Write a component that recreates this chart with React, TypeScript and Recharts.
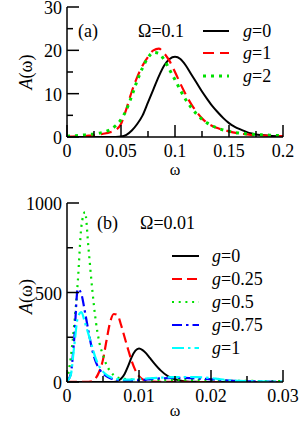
import { Line, LineChart, XAxis, YAxis } from "recharts";

const FONT = "'Liberation Serif', 'Times New Roman', Tinos, 'DejaVu Serif', serif";

// ---- panel (a): Omega = 0.1 ----
const omegaA = [
  0, 0.005, 0.01, 0.015, 0.02, 0.025, 0.03, 0.035, 0.04, 0.045, 0.05, 0.055,
  0.06, 0.065, 0.07, 0.075, 0.08, 0.085, 0.09, 0.095, 0.1, 0.105, 0.11, 0.115,
  0.12, 0.125, 0.13, 0.135, 0.14, 0.145, 0.15, 0.155, 0.16, 0.165, 0.17, 0.175,
  0.18, 0.185, 0.19, 0.195, 0.2,
];
const a_g0 = [
  0, 0, 0, 0, 0, 0, 0, 0, 0, 0.02, 0.1, 0.5, 1.5, 3.0, 5.0, 8.0, 11.0, 14.0,
  16.5, 18.0, 18.5, 18.0, 16.5, 14.5, 12.5, 10.5, 8.7, 7.0, 5.6, 4.3, 3.2, 2.4,
  1.8, 1.3, 0.85, 0.6, 0.45, 0.32, 0.22, 0.16, 0.12,
];
const a_g1 = [
  0.1, 0.1, 0.15, 0.2, 0.3, 0.4, 0.6, 0.8, 1.1, 1.6, 3.0, 6.5, 10.5, 13.8,
  16.5, 18.5, 20.0, 20.4, 19.3, 17.5, 15.0, 12.3, 9.8, 7.6, 5.8, 4.3, 3.2, 2.5,
  2.0, 1.6, 1.3, 1.0, 0.8, 0.65, 0.5, 0.4, 0.35, 0.3, 0.25, 0.2, 0.2,
];
const a_g2 = [
  0.2, 0.25, 0.35, 0.45, 0.55, 0.7, 0.9, 1.2, 1.7, 2.6, 4.0, 6.3, 9.5, 13.0,
  16.0, 18.3, 19.5, 19.3, 17.8, 15.5, 13.2, 10.8, 8.6, 6.8, 5.3, 4.1, 3.2, 2.5,
  2.0, 1.6, 1.3, 1.05, 0.9, 0.75, 0.65, 0.55, 0.5, 0.45, 0.4, 0.35, 0.3,
];
const xMajorA = [0, 0.05, 0.1, 0.15, 0.2];
const xLabelA = ["0", "0.05", "0.1", "0.15", "0.2"];
const xMinorA = [0.025, 0.075, 0.125, 0.175];
const yMajorA = [0, 10, 20, 30];
const yLabelA = ["0", "10", "20", "30"];
const yMinorA = [5, 15, 25];

// ---- panel (b): Omega = 0.01 ----
const omegaB = [
  0, 0.0005, 0.001, 0.0015, 0.002, 0.0025, 0.003, 0.0035, 0.004, 0.0045,
  0.005, 0.0055, 0.006, 0.0065, 0.007, 0.0075, 0.008, 0.0085, 0.009, 0.0095,
  0.01, 0.0105, 0.011, 0.0115, 0.012, 0.013, 0.014, 0.015, 0.016, 0.017,
  0.018, 0.019, 0.02, 0.021, 0.022, 0.023, 0.024, 0.025, 0.026, 0.027, 0.028,
  0.029, 0.03,
];
const b_g0 = [
  0, 0, 0, 0, 0, 0, 0, 0, 0, 0, 0, 0, 0, 0.5, 5, 18, 45, 90, 140, 175, 187,
  178, 160, 135, 110, 65, 33, 15, 6, 2, 1, 0, 0, 0, 0, 0, 0, 0, 0, 0, 0, 0, 0,
];
const b_g025 = [
  1, 1, 1, 1, 1, 1, 1.5, 5, 22, 60, 125, 235, 335, 380, 375, 320, 250, 180,
  115, 65, 33, 15, 7, 3, 2, 1, 1, 0.5, 0.5, 0, 0, 0, 0, 0, 0, 0, 0, 0, 0, 0,
  0, 0, 0,
];
const b_g05 = [
  10, 130, 320, 560, 870, 950, 740, 520, 340, 220, 150, 95, 60, 38, 26, 20,
  17, 15, 14, 13, 13, 12, 12, 12, 12, 12, 12, 12, 12, 11, 11, 10, 10, 9, 8, 7,
  7, 6, 6, 5, 5, 5, 4,
];
const b_g075 = [
  5, 40, 240, 520, 490, 390, 280, 180, 112, 72, 47, 31, 21, 15, 11, 9, 8, 8,
  8, 9, 10, 11, 13, 15, 17, 20, 22, 23, 23, 22, 20, 18, 15, 12, 9, 7, 5, 4, 3,
  2.5, 2, 1.5, 1,
];
const b_g1 = [
  5, 35, 200, 360, 390, 330, 265, 195, 130, 85, 58, 40, 28, 20, 16, 14, 13,
  13, 14, 15, 17, 18, 19, 21, 22, 24, 26, 27, 28, 28, 27, 25, 22, 17, 12, 9, 6,
  5, 4, 3, 2.5, 2, 2,
];
const xMajorB = [0, 0.01, 0.02, 0.03];
const xLabelB = ["0", "0.01", "0.02", "0.03"];
const xMinorB = [0.005, 0.015, 0.025];
const yMajorB = [0, 500, 1000];
const yLabelB = ["0", "500", "1000"];
const yMinorB = [250, 750];

const dataA = omegaA.map((w, i) => ({ w, g0: a_g0[i], g1: a_g1[i], g2: a_g2[i] }));
const dataB = omegaB.map((w, i) => ({
  w,
  g0: b_g0[i],
  g025: b_g025[i],
  g05: b_g05[i],
  g075: b_g075[i],
  g1: b_g1[i],
}));

const seriesA = [
  { key: "g0", label: "0", color: "#000000", dash: undefined, width: 2 },
  { key: "g1", label: "1", color: "#ff0000", dash: "11 6", width: 2.2 },
  { key: "g2", label: "2", color: "#00e000", dash: "3 5", width: 3 },
];
const seriesB = [
  { key: "g0", label: "0", color: "#000000", dash: undefined, width: 2 },
  { key: "g025", label: "0.25", color: "#ff0000", dash: "10 5", width: 2.2 },
  { key: "g05", label: "0.5", color: "#00e000", dash: "2 4.7", width: 2.2 },
  { key: "g075", label: "0.75", color: "#0000ff", dash: "10 4 2.5 4", width: 2.2 },
  { key: "g1", label: "1", color: "#00ffff", dash: "12 4 2.5 4", width: 2.2 },
];

const MAJOR = 12;
const MINOR = 6;
const near = (list: number[], v: number) => list.findIndex((m) => Math.abs(m - v) < 1e-9);
const merge = (a: number[], b: number[]) => [...a, ...b].sort((p, q) => p - q);

const textStyle = { fontFamily: FONT, fontSize: 18, fill: "#000" };

function xTick(majors: number[], labels: string[], side: "bottom" | "top") {
  return (p: any) => {
    const idx = near(majors, p.payload.value);
    const len = idx >= 0 ? MAJOR : MINOR;
    const dir = side === "bottom" ? -1 : 1;
    return (
      <g>
        <line x1={p.x} x2={p.x} y1={p.y} y2={p.y + dir * len} stroke="#000" strokeWidth={1.5} />
        {side === "bottom" && idx >= 0 && (
          <text x={p.x} y={p.y + 20} textAnchor="middle" fontFamily={FONT} style={textStyle}>
            {labels[idx]}
          </text>
        )}
      </g>
    );
  };
}

function yTick(majors: number[], labels: string[], side: "left" | "right") {
  return (p: any) => {
    const idx = near(majors, p.payload.value);
    const len = idx >= 0 ? MAJOR : MINOR;
    const dir = side === "left" ? 1 : -1;
    return (
      <g>
        <line x1={p.x} x2={p.x + dir * len} y1={p.y} y2={p.y} stroke="#000" strokeWidth={1.5} />
        {side === "left" && idx >= 0 && (
          <text x={p.x - 5} y={p.y + 7} textAnchor="end" fontFamily={FONT} style={textStyle}>
            {labels[idx]}
          </text>
        )}
      </g>
    );
  };
}

const omegaLabel = (dy: number) => (p: any) => {
  const vb = p.viewBox;
  return (
    <text x={vb.x + vb.width / 2} y={vb.y + dy} textAnchor="middle" fontFamily={FONT} style={{ ...textStyle, fontSize: 16 }}>
      ω
    </text>
  );
};

const aLabel = (shift: number) => (p: any) => {
  const vb = p.viewBox;
  const cx = vb.x + 32;
  const cy = vb.y + vb.height / 2 + shift;
  return (
    <text x={cx} y={cy} textAnchor="middle" transform={`rotate(-90 ${cx} ${cy})`} fontFamily={FONT} style={textStyle}>
      <tspan fontStyle="italic">A</tspan>(ω)
    </text>
  );
};

const axisLine = { stroke: "#000", strokeWidth: 1.5 };

function Panel(props: {
  data: any[];
  series: typeof seriesA;
  height: number;
  margin: { top: number; right: number; bottom: number; left: number };
  xAxisHeight: number;
  xDomain: [number, number];
  yDomain: [number, number];
  xMajor: number[];
  xLabel: string[];
  xMinor: number[];
  yMajor: number[];
  yLabel: string[];
  yMinor: number[];
  omegaDy: number;
  aShift: number;
}) {
  const xTicks = merge(props.xMajor, props.xMinor);
  const yTicks = merge(props.yMajor, props.yMinor);
  return (
    <LineChart width={300} height={props.height} data={props.data} margin={props.margin}>
      <XAxis
        dataKey="w"
        type="number"
        domain={props.xDomain}
        ticks={xTicks}
        interval={0}
        allowDataOverflow
        height={props.xAxisHeight}
        tickSize={0}
        tickMargin={0}
        tickLine={false}
        axisLine={axisLine}
        tick={xTick(props.xMajor, props.xLabel, "bottom")}
        label={{ content: omegaLabel(props.omegaDy) }}
      />
      <XAxis
        xAxisId="top"
        orientation="top"
        type="number"
        domain={props.xDomain}
        ticks={xTicks}
        interval={0}
        allowDataOverflow
        height={0}
        tickSize={0}
        tickMargin={0}
        tickLine={false}
        axisLine={axisLine}
        tick={xTick(props.xMajor, props.xLabel, "top")}
      />
      <YAxis
        type="number"
        domain={props.yDomain}
        ticks={yTicks}
        interval={0}
        allowDataOverflow
        width={67}
        tickSize={0}
        tickMargin={0}
        tickLine={false}
        axisLine={axisLine}
        tick={yTick(props.yMajor, props.yLabel, "left")}
        label={{ content: aLabel(props.aShift) }}
      />
      <YAxis
        yAxisId="right"
        orientation="right"
        type="number"
        domain={props.yDomain}
        ticks={yTicks}
        interval={0}
        allowDataOverflow
        width={0}
        tickSize={0}
        tickMargin={0}
        tickLine={false}
        axisLine={axisLine}
        tick={yTick(props.yMajor, props.yLabel, "right")}
      />
      {props.series.map((s) => (
        <Line
          key={s.key}
          dataKey={s.key}
          type="monotone"
          stroke={s.color}
          strokeWidth={s.width}
          strokeDasharray={s.dash}
          dot={false}
          activeDot={false}
          isAnimationActive={false}
        />
      ))}
    </LineChart>
  );
}

function LegendRows(props: {
  series: typeof seriesA;
  x1: number;
  x2: number;
  tx: number;
  ys: number[];
}) {
  return (
    <>
      {props.series.map((s, i) => (
        <g key={s.key}>
          <line
            x1={props.x1}
            x2={props.x2}
            y1={props.ys[i]}
            y2={props.ys[i]}
            stroke={s.color}
            strokeWidth={s.width}
            strokeDasharray={s.dash}
          />
          <text x={props.tx} y={props.ys[i] + 6} fontFamily={FONT} style={textStyle}>
            <tspan fontStyle="italic">g</tspan>={s.label}
          </text>
        </g>
      ))}
    </>
  );
}

export default function App() {
  return (
    <div style={{ position: "absolute", left: 0, top: 0, width: 300, height: 421, background: "#fff", fontFamily: FONT }}>
      <div style={{ position: "absolute", left: 0, top: 0 }}>
        <Panel
          data={dataA}
          series={seriesA}
          height={190}
          margin={{ top: 7, right: 17, bottom: 0, left: 0 }}
          xAxisHeight={53}
          xDomain={[0, 0.2]}
          yDomain={[0, 30]}
          xMajor={xMajorA}
          xLabel={xLabelA}
          xMinor={xMinorA}
          yMajor={yMajorA}
          yLabel={yLabelA}
          yMinor={yMinorA}
          omegaDy={38}
          aShift={0}
        />
      </div>
      <div style={{ position: "absolute", left: 0, top: 187 }}>
        <Panel
          data={dataB}
          series={seriesB}
          height={234}
          margin={{ top: 16, right: 17, bottom: 0, left: 0 }}
          xAxisHeight={39}
          xDomain={[0, 0.03]}
          yDomain={[0, 1000]}
          xMajor={xMajorB}
          xLabel={xLabelB}
          xMinor={xMinorB}
          yMajor={yMajorB}
          yLabel={yLabelB}
          yMinor={yMinorB}
          omegaDy={34}
          aShift={4}
        />
      </div>
      <svg
        width={300}
        height={421}
        style={{ position: "absolute", left: 0, top: 0, pointerEvents: "none" }}
      >
        <text x={78} y={37} fontFamily={FONT} style={textStyle}>(a)</text>
        <text x={138} y={37} fontFamily={FONT} style={textStyle}>Ω=0.1</text>
        <LegendRows series={seriesA} x1={203} x2={229} tx={243} ys={[31, 53, 76]} />
        <text x={97} y={229} fontFamily={FONT} style={textStyle}>(b)</text>
        <text x={140} y={229} fontFamily={FONT} style={textStyle}>Ω=0.01</text>
        <LegendRows series={seriesB} x1={172} x2={199} tx={212} ys={[256, 279, 302, 325, 348]} />
      </svg>
    </div>
  );
}
